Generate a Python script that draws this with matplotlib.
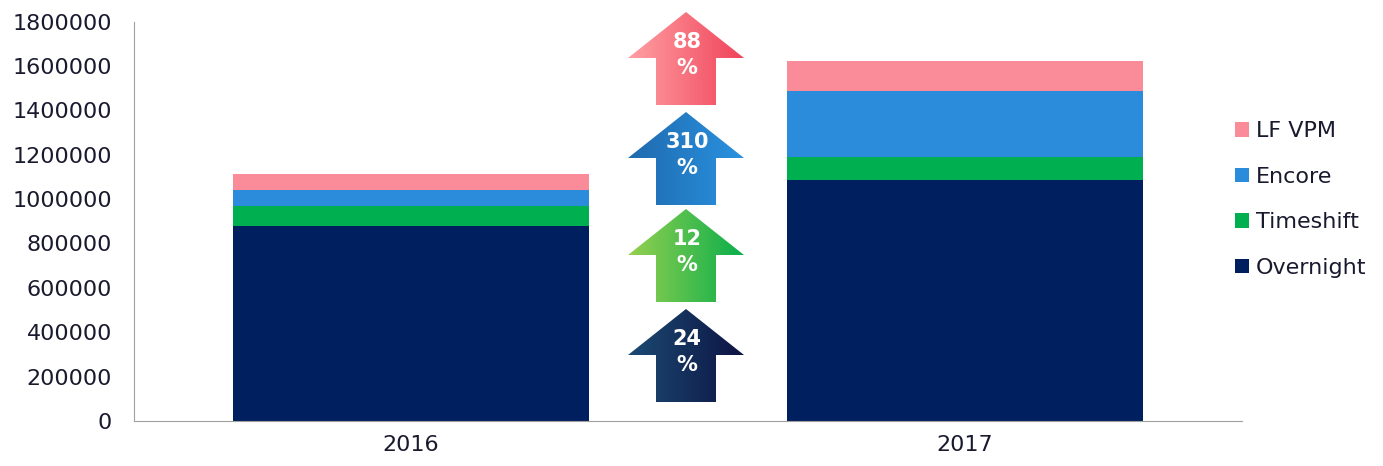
import matplotlib.pyplot as plt
import numpy as np
from matplotlib.patches import Polygon
from matplotlib.colors import LinearSegmentedColormap
from matplotlib.ticker import StrMethodFormatter

plt.rcParams['font.family'] = ['DejaVu Sans']

years = ['2016', '2017']
overnight = [877000, 1087000]
timeshift = [92000, 101000]
encore = [73000, 301000]
lf_vpm = [72000, 135000]

growth = ['24\n%', '12\n%', '310\n%', '88\n%']
# gradient colours left -> right, bottom arrow first
grad_cols = [('#1b4a72', '#0e1444'), ('#95d04f', '#0aae4c'),
             ('#1f6aae', '#2a92e0'), ('#ffa0a4', '#f0445a')]

fig = plt.figure(figsize=(13.83, 4.66), dpi=100)
ax = fig.add_axes([0.097, 0.0966, 0.801, 0.857])

x = np.arange(len(years))
w = 0.644
b = np.zeros(2)
series = [('Overnight', overnight, '#001f5f'), ('Timeshift', timeshift, '#00b050'),
          ('Encore', encore, '#2a8cdb'), ('LF VPM', lf_vpm, '#fa8c99')]
handles = []
for name, vals, c in series:
    h = ax.bar(x, vals, w, bottom=b, color=c, label=name)
    handles.append(h)
    b += np.array(vals)

ax.set_xlim(-0.5, 1.5)
ax.set_ylim(0, 1800000)
ax.set_yticks(range(0, 1800001, 200000))
ax.yaxis.set_major_formatter(StrMethodFormatter('{x:.0f}'))
ax.set_xticks(x)
ax.set_xticklabels(years)
ax.tick_params(length=0, labelsize=16, colors='#1a1a2e')
ax.tick_params(axis='x', pad=10)
ax.tick_params(axis='y', pad=16)
for s in ['top', 'right']:
    ax.spines[s].set_visible(False)
for s in ['left', 'bottom']:
    ax.spines[s].set_color('#a0a0a0')

leg = fig.legend(handles[::-1], [s[0] for s in series][::-1], loc='center left',
                 bbox_to_anchor=(0.893, 0.572), frameon=False, fontsize=16,
                 handlelength=0.64, handleheight=0.64, handletextpad=0.3,
                 labelspacing=1.15, borderpad=0, borderaxespad=0)
for t in leg.get_texts():
    t.set_color('#1a1a2e')

# arrows in figure pixel space
ov = fig.add_axes([0, 0, 1, 1], zorder=5)
ov.axis('off')
tops = [309, 209, 112, 12]
for top, txt, (c1, c2) in zip(tops, growth, grad_cols):
    L, R, sl, sr = 628, 744, 656, 716
    hb, bot = top + 46, top + 93
    pts = [(L, hb), ((L + R) / 2, top), (R, hb), (sr, hb), (sr, bot), (sl, bot), (sl, hb)]
    poly = Polygon(pts, closed=True, facecolor='none', edgecolor='none')
    ov.add_patch(poly)
    cmap = LinearSegmentedColormap.from_list('g', [c1, c2])
    im = ov.imshow(np.linspace(0, 1, 100).reshape(1, -1), cmap=cmap, aspect='auto',
                   extent=[L, R, bot, top], interpolation='bilinear')
    im.set_clip_path(poly)
    num, pct = txt.split('\n')
    ov.text((L + R) / 2 + 1, top + 30, num, color='white', fontsize=15,
            fontweight='bold', ha='center', va='center')
    ov.text((L + R) / 2 + 1, top + 56, pct, color='white', fontsize=15,
            fontweight='bold', ha='center', va='center')
ov.set_xlim(0, 1383)
ov.set_ylim(466, 0)

fig.savefig('out.png', dpi=100)
